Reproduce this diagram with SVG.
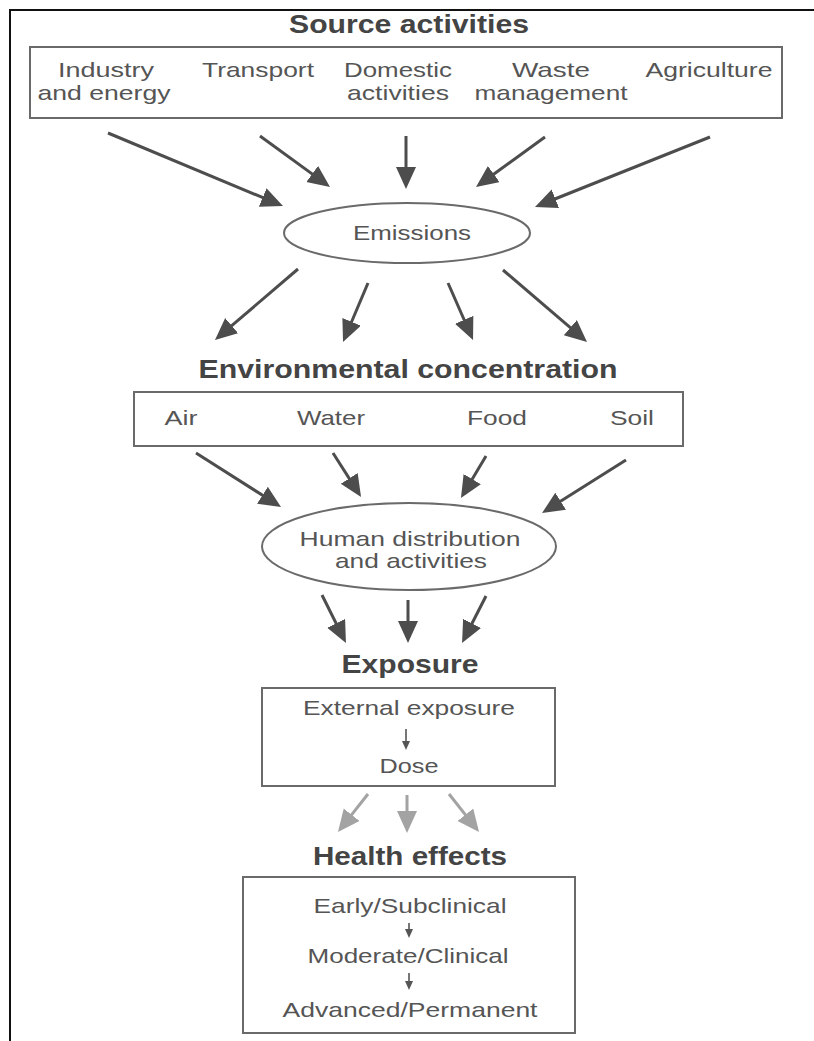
<svg xmlns="http://www.w3.org/2000/svg" width="814" height="1041" viewBox="0 0 814 1041">
  <style>
    .title { font-family: "Liberation Sans", Arial, sans-serif; font-weight: bold; font-size: 26px; fill: #444; text-anchor: middle; }
    .label { font-family: "Liberation Sans", Arial, sans-serif; font-size: 21px; fill: #555; text-anchor: middle; }
    .box { fill: none; stroke: #6a6a6a; stroke-width: 2; }
    .arrow { stroke: #4d4d4d; stroke-width: 3; fill: none; marker-end: url(#head); }
    .arrow-light { stroke: #a3a3a3; stroke-width: 3; fill: none; marker-end: url(#head-light); }
    .arrow-small { stroke: #555; stroke-width: 1.6; fill: none; marker-end: url(#head-small); }
  </style>
  <defs>
    <marker id="head" markerUnits="userSpaceOnUse" markerWidth="24" markerHeight="22" refX="10" refY="10" orient="auto">
      <path d="M0,0 L22,10 L0,20 Z" fill="#4d4d4d"/>
    </marker>
    <marker id="head-light" markerUnits="userSpaceOnUse" markerWidth="24" markerHeight="22" refX="10" refY="10" orient="auto">
      <path d="M0,0 L22,10 L0,20 Z" fill="#a3a3a3"/>
    </marker>
    <marker id="head-small" markerUnits="userSpaceOnUse" markerWidth="10" markerHeight="10" refX="3" refY="4" orient="auto">
      <path d="M0,0 L9,4 L0,8 Z" fill="#555"/>
    </marker>
  </defs>

  <rect width="814" height="1041" fill="#fff"/>

  <!-- page frame -->
  <path d="M10,1041 V10 H814" fill="none" stroke="#111" stroke-width="2"/>

  <!-- source activities -->
  <g id="source-activities">
    <text class="title" x="409" y="33" textLength="240" lengthAdjust="spacingAndGlyphs">Source activities</text>
    <rect class="box" x="30" y="47" width="752" height="71"/>
    <text class="label" x="106" y="77" textLength="96" lengthAdjust="spacingAndGlyphs">Industry</text>
    <text class="label" x="104" y="100" textLength="133" lengthAdjust="spacingAndGlyphs">and energy</text>
    <text class="label" x="258" y="77" textLength="112" lengthAdjust="spacingAndGlyphs">Transport</text>
    <text class="label" x="398" y="77" textLength="108" lengthAdjust="spacingAndGlyphs">Domestic</text>
    <text class="label" x="398" y="100" textLength="102" lengthAdjust="spacingAndGlyphs">activities</text>
    <text class="label" x="551" y="77" textLength="78" lengthAdjust="spacingAndGlyphs">Waste</text>
    <text class="label" x="551" y="100" textLength="153" lengthAdjust="spacingAndGlyphs">management</text>
    <text class="label" x="709" y="77" textLength="127" lengthAdjust="spacingAndGlyphs">Agriculture</text>
  </g>

  <!-- emissions -->
  <g id="emissions">
    <ellipse class="box" cx="407" cy="233" rx="123" ry="30"/>
    <text class="label" x="412" y="240" textLength="118" lengthAdjust="spacingAndGlyphs">Emissions</text>
  </g>

  <!-- environmental concentration -->
  <g id="environmental-concentration">
    <text class="title" x="408" y="378" textLength="419" lengthAdjust="spacingAndGlyphs">Environmental concentration</text>
    <rect class="box" x="134" y="392" width="549" height="54"/>
    <text class="label" x="181" y="425" textLength="33" lengthAdjust="spacingAndGlyphs">Air</text>
    <text class="label" x="331" y="425" textLength="68" lengthAdjust="spacingAndGlyphs">Water</text>
    <text class="label" x="497" y="425" textLength="60" lengthAdjust="spacingAndGlyphs">Food</text>
    <text class="label" x="632" y="425" textLength="44" lengthAdjust="spacingAndGlyphs">Soil</text>
  </g>

  <!-- human distribution -->
  <g id="human-distribution">
    <ellipse class="box" cx="409" cy="546.5" rx="147" ry="43.5"/>
    <text class="label" x="410" y="546" textLength="221" lengthAdjust="spacingAndGlyphs">Human distribution</text>
    <text class="label" x="411" y="568" textLength="152" lengthAdjust="spacingAndGlyphs">and activities</text>
  </g>

  <!-- exposure -->
  <g id="exposure">
    <text class="title" x="410" y="673" textLength="137" lengthAdjust="spacingAndGlyphs">Exposure</text>
    <rect class="box" x="262" y="688" width="293" height="98"/>
    <text class="label" x="409" y="715" textLength="212" lengthAdjust="spacingAndGlyphs">External exposure</text>
    <line class="arrow-small" x1="406" y1="729" x2="406" y2="744"/>
    <text class="label" x="409" y="773" textLength="59" lengthAdjust="spacingAndGlyphs">Dose</text>
  </g>

  <!-- health effects -->
  <g id="health-effects">
    <text class="title" x="410" y="865" textLength="194" lengthAdjust="spacingAndGlyphs">Health effects</text>
    <rect class="box" x="243" y="877" width="332" height="156"/>
    <text class="label" x="410" y="913" textLength="193" lengthAdjust="spacingAndGlyphs">Early/Subclinical</text>
    <line class="arrow-small" x1="409" y1="923" x2="409" y2="932"/>
    <text class="label" x="408" y="963" textLength="201" lengthAdjust="spacingAndGlyphs">Moderate/Clinical</text>
    <line class="arrow-small" x1="409" y1="973" x2="409" y2="984"/>
    <text class="label" x="410" y="1017" textLength="255" lengthAdjust="spacingAndGlyphs">Advanced/Permanent</text>
  </g>

  <!-- connectors -->
  <g id="connectors">
    <line class="arrow" x1="108" y1="133" x2="271.9" y2="201.4"/>
    <line class="arrow" x1="260" y1="136" x2="320.3" y2="179.9"/>
    <line class="arrow" x1="406" y1="136" x2="406" y2="177"/>
    <line class="arrow" x1="545" y1="137" x2="485.7" y2="180"/>
    <line class="arrow" x1="710" y1="137" x2="546.1" y2="202.5"/>

    <line class="arrow" x1="298" y1="269" x2="224.1" y2="332.2"/>
    <line class="arrow" x1="368" y1="283" x2="347.7" y2="331"/>
    <line class="arrow" x1="448" y1="283" x2="468.2" y2="329"/>
    <line class="arrow" x1="503" y1="270" x2="577.9" y2="334.2"/>

    <line class="arrow" x1="196" y1="453" x2="270.9" y2="500.6"/>
    <line class="arrow" x1="333" y1="453" x2="354.6" y2="486.9"/>
    <line class="arrow" x1="486" y1="456" x2="467.1" y2="487.7"/>
    <line class="arrow" x1="626" y1="460" x2="552.2" y2="506.6"/>

    <line class="arrow" x1="322" y1="595" x2="340.6" y2="632.3"/>
    <line class="arrow" x1="408" y1="600" x2="408" y2="631"/>
    <line class="arrow" x1="486" y1="596" x2="467.5" y2="632.3"/>

    <line class="arrow-light" x1="368" y1="794" x2="345.4" y2="822.6"/>
    <line class="arrow-light" x1="407" y1="795" x2="407" y2="821"/>
    <line class="arrow-light" x1="449" y1="794" x2="471.6" y2="822.6"/>
  </g>
</svg>
